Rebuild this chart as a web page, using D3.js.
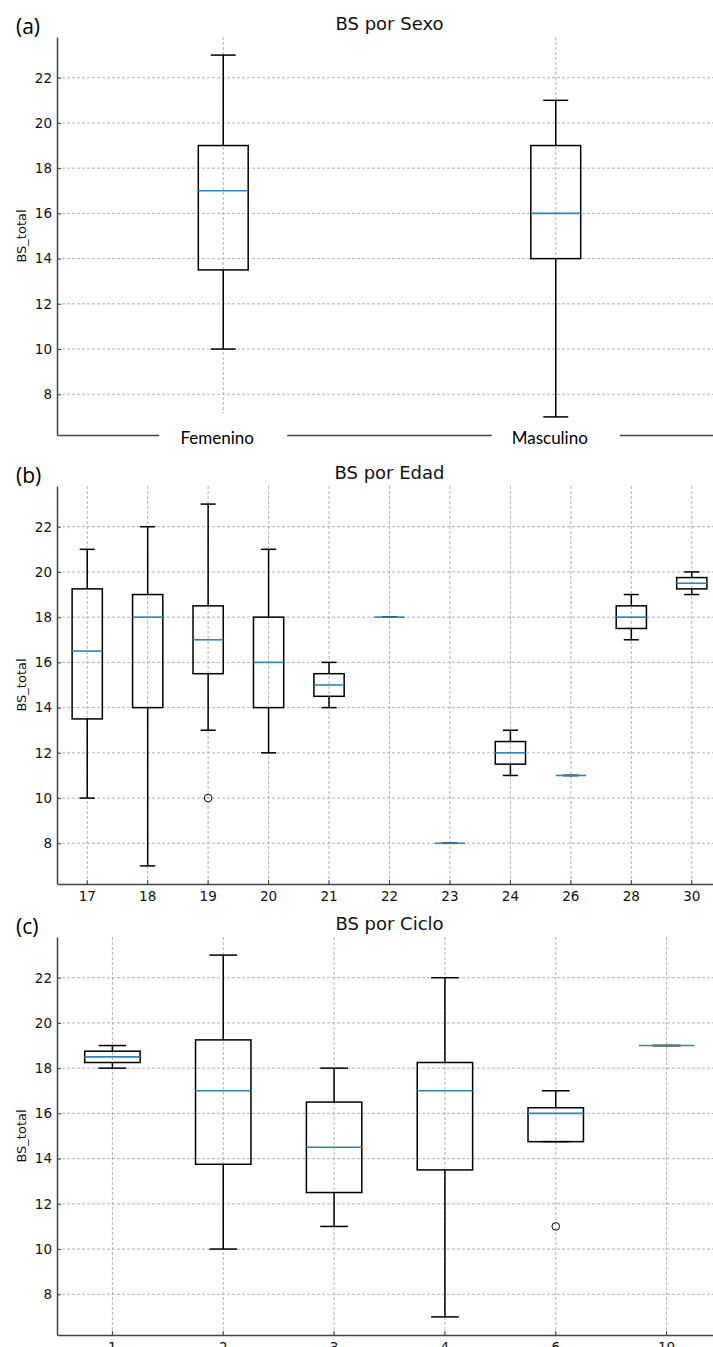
<!DOCTYPE html>
<html>
<head>
<meta charset="utf-8">
<script src="https://cdn.jsdelivr.net/npm/d3@7"></script>
<style>
  body { margin: 0; background: #fff; }
  svg { display: block; }
</style>
</head>
<body>
<div id="chart"></div>
<script>
// each box: [whisker low, q1, median, q3, whisker high]
const sexoCats = ["Femenino", "Masculino"];
const sexoStats = [[10, 13.5, 17, 19, 23], [7, 14, 16, 19, 21]];
const sexoOutliers = [[], []];

const edadCats = ["17", "18", "19", "20", "21", "22", "23", "24", "26", "28", "30"];
const edadStats = [
  [10, 13.5, 16.5, 19.25, 21],
  [7, 14, 18, 19, 22],
  [13, 15.5, 17, 18.5, 23],
  [12, 14, 16, 18, 21],
  [14, 14.5, 15, 15.5, 16],
  [18, 18, 18, 18, 18],
  [8, 8, 8, 8, 8],
  [11, 11.5, 12, 12.5, 13],
  [11, 11, 11, 11, 11],
  [17, 17.5, 18, 18.5, 19],
  [19, 19.25, 19.5, 19.75, 20]
];
const edadOutliers = [[], [], [10], [], [], [], [], [], [], [], []];

const cicloCats = ["1", "2", "3", "4", "6", "10"];
const cicloStats = [
  [18, 18.25, 18.5, 18.75, 19],
  [10, 13.75, 17, 19.25, 23],
  [11, 12.5, 14.5, 16.5, 18],
  [7, 13.5, 17, 18.25, 22],
  [14.75, 14.75, 16, 16.25, 17],
  [19, 19, 19, 19, 19]
];
const cicloOutliers = [[], [], [], [], [11], []];

const yTicks = [8, 10, 12, 14, 16, 18, 20, 22];
const yDomain = [6.2, 23.8];

const W = 713, H = 1347;
const left = 57, right = 722, plotH = 398;

const panels = [
  { tag: "(a)", title: "BS por Sexo", cats: sexoCats, stats: sexoStats, outliers: sexoOutliers, top: 37, boxFrac: 0.15, coverLabels: true },
  { tag: "(b)", title: "BS por Edad", cats: edadCats, stats: edadStats, outliers: edadOutliers, top: 486, boxFrac: 0.5 },
  { tag: "(c)", title: "BS por Ciclo", cats: cicloCats, stats: cicloStats, outliers: cicloOutliers, top: 937, boxFrac: 0.5 }
];

const svg = d3.select("#chart")
  .append("svg")
  .attr("width", W)
  .attr("height", H);

const tickFont = "DejaVu Sans, sans-serif";

panels.forEach(p => {
  const bottom = p.top + plotH;
  const x = d3.scaleBand().domain(p.cats).range([left, right]).padding(0);
  const y = d3.scaleLinear().domain(yDomain).range([bottom, p.top]);
  const bw = x.bandwidth();
  const cx = d => x(d) + bw / 2;
  const g = svg.append("g");

  // grid
  g.selectAll(".hgrid").data(yTicks).join("line")
    .attr("x1", left).attr("x2", right)
    .attr("y1", d => y(d)).attr("y2", d => y(d))
    .attr("stroke", "#aaa").attr("stroke-width", 0.9).attr("stroke-dasharray", "3,2");
  g.selectAll(".vgrid").data(p.cats).join("line")
    .attr("x1", cx).attr("x2", cx)
    .attr("y1", p.top).attr("y2", bottom)
    .attr("stroke", "#aaa").attr("stroke-width", 0.9).attr("stroke-dasharray", "3,2");

  // white patches behind the (a) labels, they hide grid + axis line
  if (p.coverLabels) {
    g.selectAll(".cover").data(p.cats).join("rect")
      .attr("x", d => cx(d) - 64).attr("width", 128)
      .attr("y", bottom - 22).attr("height", 45)
      .attr("fill", "#fff");
  }

  // boxes
  const w = bw * p.boxFrac;
  const boxes = g.selectAll(".box").data(p.cats).join("g");
  boxes.each(function (c, i) {
    const s = p.stats[i];
    const b = d3.select(this);
    const xc = cx(c);
    b.append("line").attr("x1", xc).attr("x2", xc).attr("y1", y(s[0])).attr("y2", y(s[1]))
      .attr("stroke", "#000").attr("stroke-width", 1.5);
    b.append("line").attr("x1", xc).attr("x2", xc).attr("y1", y(s[3])).attr("y2", y(s[4]))
      .attr("stroke", "#000").attr("stroke-width", 1.5);
    [s[0], s[4]].forEach(v => {
      b.append("line").attr("x1", xc - w / 4).attr("x2", xc + w / 4).attr("y1", y(v)).attr("y2", y(v))
        .attr("stroke", "#000").attr("stroke-width", 1.5);
    });
    b.append("rect")
      .attr("x", xc - w / 2).attr("width", w)
      .attr("y", y(s[3])).attr("height", y(s[1]) - y(s[3]))
      .attr("fill", "none").attr("stroke", "#000").attr("stroke-width", 1.5);
    b.append("line").attr("x1", xc - w / 2).attr("x2", xc + w / 2).attr("y1", y(s[2])).attr("y2", y(s[2]))
      .attr("stroke", "#2f84c0").attr("stroke-width", 1.6);
    p.outliers[i].forEach(v => {
      b.append("circle").attr("cx", xc).attr("cy", y(v)).attr("r", 3.8)
        .attr("fill", "none").attr("stroke", "#000").attr("stroke-width", 1);
    });
  });

  // y axis
  const yAxis = g.append("g")
    .attr("transform", `translate(${left},0)`)
    .call(d3.axisLeft(y).tickValues(yTicks).tickSizeInner(-4).tickSizeOuter(0).tickPadding(5));
  yAxis.select(".domain").attr("stroke", "#444").attr("stroke-width", 1.5);
  yAxis.selectAll(".tick line").attr("stroke", "#444");
  yAxis.selectAll(".tick text").attr("font-family", tickFont).attr("font-size", 13.5).attr("fill", "#111");

  // x axis
  const xAxis = g.append("g")
    .attr("transform", `translate(0,${bottom})`)
    .call(d3.axisBottom(x).tickSizeInner(-4).tickSizeOuter(0).tickPadding(7));
  xAxis.select(".domain").attr("stroke", "#444").attr("stroke-width", 1.5);
  xAxis.selectAll(".tick line").attr("stroke", "#444");
  xAxis.selectAll(".tick text").attr("font-family", tickFont).attr("font-size", 13.5).attr("fill", "#111");

  if (p.coverLabels) {
    xAxis.selectAll(".tick line").remove();
    xAxis.selectAll(".tick text").remove();
    // redraw the axis line only outside the label patches
    g.selectAll(".cover2").data(p.cats).join("rect")
      .attr("x", d => cx(d) - 64).attr("width", 128)
      .attr("y", bottom - 4).attr("height", 27)
      .attr("fill", "#fff");
    g.selectAll(".covlab").data(p.cats).join("text")
      .attr("x", d => cx(d) - 6).attr("y", bottom + 9)
      .attr("text-anchor", "middle")
      .attr("font-family", "Lato, sans-serif").attr("font-size", 17).attr("fill", "#000")
      .text(d => d);
  }

  // y label
  g.append("text")
    .attr("transform", `translate(26,${(p.top + bottom) / 2}) rotate(-90)`)
    .attr("text-anchor", "middle")
    .attr("font-family", tickFont).attr("font-size", 13).attr("fill", "#111")
    .text("BS_total");

  // title
  g.append("text")
    .attr("x", (left + right) / 2).attr("y", p.top - 7)
    .attr("text-anchor", "middle")
    .attr("font-family", tickFont).attr("font-size", 18).attr("fill", "#111")
    .text(p.title);

  // panel tag
  g.append("text")
    .attr("x", 16).attr("y", p.top - 3)
    .attr("font-family", "Open Sans, sans-serif").attr("font-size", 21).attr("fill", "#000")
    .text(p.tag);
});
</script>
</body>
</html>
